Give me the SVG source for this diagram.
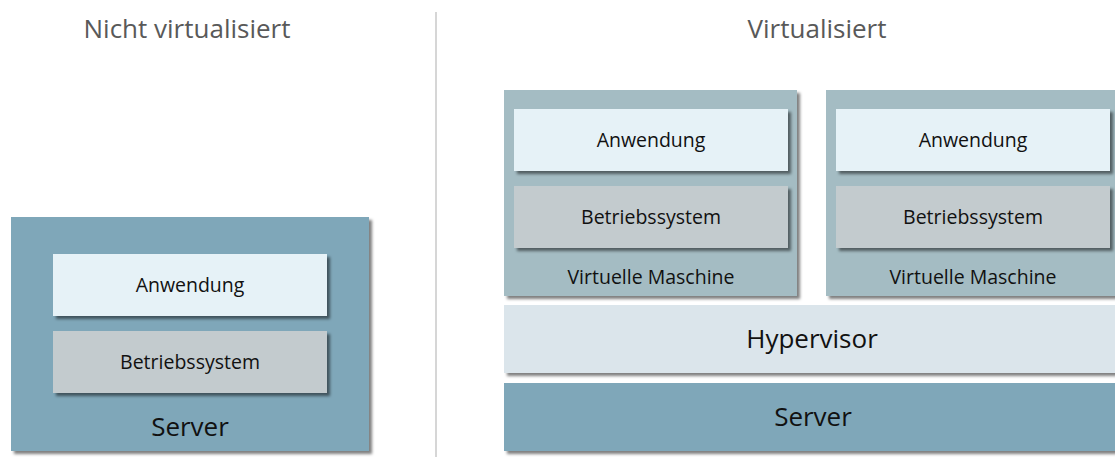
<svg xmlns="http://www.w3.org/2000/svg" width="1115" height="457" viewBox="0 0 1115 457">
  <defs>
    <filter id="shadow" x="-10%" y="-10%" width="130%" height="140%">
      <feDropShadow dx="3" dy="3" stdDeviation="1.8" flood-color="#000" flood-opacity="0.5"/>
    </filter>
    <style>
      text { font-family: "Open Sans", "Liberation Sans", sans-serif; text-anchor: middle; fill: #111; }
      .title { font-size: 26px; fill: #595959; }
      .server { fill: #7fa7b9; filter: url(#shadow); }
      .vm { fill: #a4bcc3; filter: url(#shadow); }
      .app { fill: #e6f2f7; filter: url(#shadow); }
      .os { fill: #c3cbce; filter: url(#shadow); }
      .hyp { fill: #dbe5eb; filter: url(#shadow); }
      .lbl { font-size: 19.5px; }
      .big { font-size: 26px; }
      .divider { stroke: #c8c8c8; stroke-width: 1.5; }
    </style>
  </defs>

  <rect width="1115" height="457" fill="#fff"/>

  <!-- section titles and divider -->
  <text class="title" x="187" y="38">Nicht virtualisiert</text>
  <text class="title" x="817" y="38">Virtualisiert</text>
  <line class="divider" x1="436" y1="12" x2="436" y2="457"/>

  <!-- non-virtualised stack -->
  <g id="server-left">
    <rect class="server" x="11" y="217" width="358" height="234"/>
    <text class="big" x="190" y="436">Server</text>
  </g>
  <g id="app-left">
    <rect class="app" x="53" y="254" width="274" height="62"/>
    <text class="lbl" x="190" y="292">Anwendung</text>
  </g>
  <g id="os-left">
    <rect class="os" x="53" y="331" width="274" height="62"/>
    <text class="lbl" x="190" y="369">Betriebssystem</text>
  </g>

  <!-- virtualised stack -->
  <g id="vm1">
    <rect class="vm" x="504" y="90" width="293" height="206"/>
    <text class="lbl" x="651" y="284">Virtuelle Maschine</text>
  </g>
  <g id="vm1-app">
    <rect class="app" x="514" y="109" width="274" height="62"/>
    <text class="lbl" x="651" y="147">Anwendung</text>
  </g>
  <g id="vm1-os">
    <rect class="os" x="514" y="186" width="274" height="62"/>
    <text class="lbl" x="651" y="224">Betriebssystem</text>
  </g>

  <g id="vm2">
    <rect class="vm" x="826" y="90" width="293" height="206"/>
    <text class="lbl" x="973" y="284">Virtuelle Maschine</text>
  </g>
  <g id="vm2-app">
    <rect class="app" x="836" y="109" width="274" height="62"/>
    <text class="lbl" x="973" y="147">Anwendung</text>
  </g>
  <g id="vm2-os">
    <rect class="os" x="836" y="186" width="274" height="62"/>
    <text class="lbl" x="973" y="224">Betriebssystem</text>
  </g>

  <g id="hypervisor">
    <rect class="hyp" x="504" y="305" width="620" height="68"/>
    <text class="big" x="812" y="348">Hypervisor</text>
  </g>
  <g id="server-right">
    <rect class="server" x="504" y="383" width="620" height="68"/>
    <text class="big" x="813" y="426">Server</text>
  </g>

  <g id="connectors"/>
</svg>
